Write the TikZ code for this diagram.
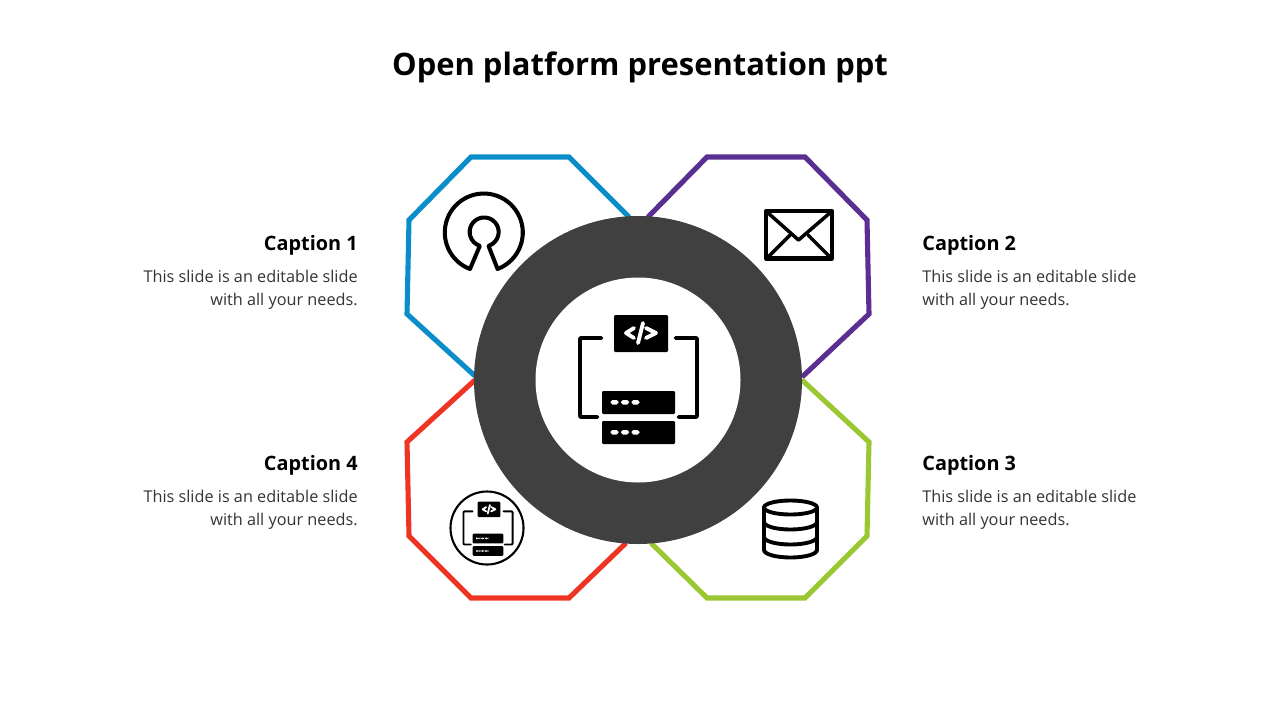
\documentclass[tikz,border=0pt]{standalone}
\usepackage{fontspec}
\setmainfont{Open Sans}
\usetikzlibrary{positioning, calc}
\definecolor{petalblue}{HTML}{0A8DC9}
\definecolor{petalpurple}{HTML}{5B2E91}
\definecolor{petalgreen}{HTML}{9BC832}
\definecolor{petalred}{HTML}{EE3524}
\definecolor{ringgray}{HTML}{404040}
\definecolor{bodygray}{HTML}{333333}
\tikzset{
    petal/.style={line width=2.9pt, miter limit=10},
    icon line/.style={line width=#1, black, line join=round, line cap=round},
    icon line/.default=2.2pt,
    caption head/.style={font=\fontsize{11.3}{13}\selectfont\bfseries, inner sep=0pt},
    caption body/.style={font=\fontsize{9.25}{13}\selectfont, text=bodygray, inner sep=0pt},
}
% platform icon drawn round its centre
\newcommand{\platformicon}[4]{
    \begin{scope}[shift={(#1,#2)}, scale=#3]
    \fill[black, rounded corners=0.6pt] (-24.5,-65) rectangle (29.5,-28);
    \draw[white, line width=#4, line cap=round, line join=round] (-4.5,-52) -- (-12.5,-47) -- (-4.5,-42);
    \draw[white, line width=#4, line cap=round, line join=round] (7.5,-52) -- (17.5,-47) -- (7.5,-42);
    \draw[white, line width=#4, line cap=round] (4.5,-57) -- (-0.5,-37);
    \draw[icon line=#4, rounded corners=0.5pt] (-37,-42) -- (-58.5,-42) -- (-58.5,37) -- (-41,37);
    \draw[icon line=#4, rounded corners=0.5pt] (37,-42) -- (58.5,-42) -- (58.5,37) -- (40,37);
    \foreach \y in {11, 41} {
        \fill[black, rounded corners=0.6pt] (-36.5,\y) rectangle (36.5,\y+23);
        \foreach \x in {-24, -13.5, -3} {
            \fill[white, rounded corners=1.1pt] (\x-4,\y+9) rectangle (\x+4,\y+13.6);
        }
    }
    \end{scope}
}
\begin{document}
\begin{tikzpicture}[x=0.02cm, y=-0.02cm]
\useasboundingbox (0,0) rectangle (1280,720);

\node[font=\fontsize{17.6}{22}\selectfont\bfseries, inner sep=0pt] (title) at (640,67) {Open platform presentation ppt};

% petals
\draw[petal, petalblue] (629,217) -- (569,157) -- (471,157) -- (409,220) -- (407,314) -- (475,376);
\draw[petal, petalpurple] (648,217) -- (707,157) -- (805,157) -- (867,220) -- (869,314) -- (802,377);
\draw[petal, petalgreen] (802,380) -- (869,442) -- (867,536) -- (805,598) -- (707,598) -- (651,543);
\draw[petal, petalred] (475,380) -- (407,442) -- (409,536) -- (471,598) -- (569,598) -- (626,543);

% ring
\node[circle, fill=ringgray, minimum size=328*0.02cm, inner sep=0pt] (ringouter) at (638,380) {};
\node[circle, fill=white, minimum size=205*0.02cm, inner sep=0pt] (ringinner) at (ringouter) {};

\platformicon{638.5}{380}{1}{2.2pt}

% small icon
\node[circle, draw, line width=1.2pt, minimum size=73*0.02cm, inner sep=0pt] (badge) at (487,528) {};
\platformicon{488}{529}{0.42}{1.05pt}

% open source mark
\draw[icon line=2.3pt] (470,269) arc[start angle=110.7, end angle=429.3, radius=39] -- (488.5,245.8)
    arc[start angle=72.6, end angle=-252.6, radius=14.5] -- cycle;

% envelope
\draw[icon line=2.3pt] (766,211) rectangle (832,258.5);
\draw[icon line=2pt] (767,212) -- (798.5,240) -- (831,212);
\draw[icon line=2pt] (767,258) -- (790,235);
\draw[icon line=2pt] (831,258) -- (808,235);

% database
\draw[icon line=2.2pt] (790.5,507.5) ellipse (26.5 and 7);
\draw[icon line=2.2pt] (764,507.5) -- (764,550) arc[start angle=180, end angle=0, x radius=26.5, y radius=7.5] -- (817,507.5);
\foreach \y in {522, 537} {
    \draw[icon line=2.2pt] (764,\y) arc[start angle=180, end angle=0, x radius=26.5, y radius=7.5];
}

% captions
\foreach \i/\y in {1/245.5, 4/465.5} {
    \node[caption head, anchor=east] (head\i) at (358,\y) {Caption \i};
    \node[caption body, anchor=north east, align=right] (body\i) at (358,\y+24) {This slide is an editable slide\\with all your needs.};
}
\foreach \i/\y in {2/245.5, 3/465.5} {
    \node[caption head, anchor=west] (head\i) at (922,\y) {Caption \i};
    \node[caption body, anchor=north west, align=left] (body\i) at (922,\y+24) {This slide is an editable slide\\with all your needs.};
}
\end{tikzpicture}
\end{document}
